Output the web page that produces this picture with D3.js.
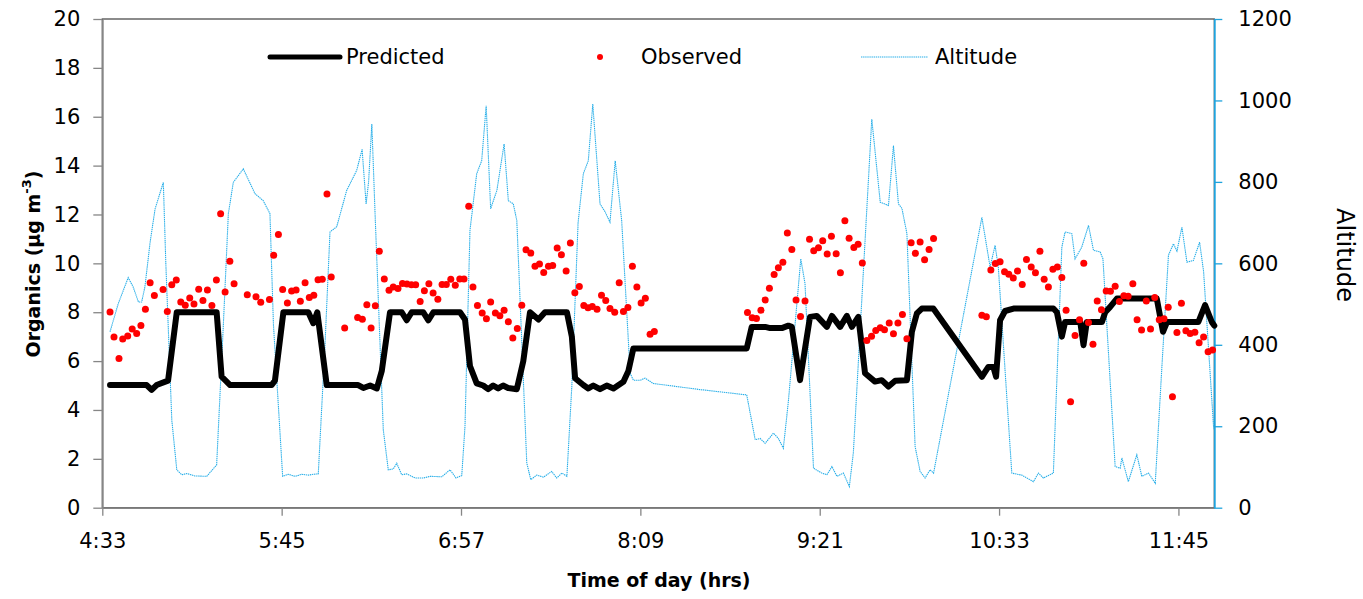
<!DOCTYPE html>
<html>
<head>
<meta charset="utf-8">
<script src="https://cdn.jsdelivr.net/npm/d3@7"></script>
<style>
  body { margin: 0; background: #fff; }
  svg { display: block; }
  text { font-family: 'DejaVu Sans', sans-serif; fill: #000; }
</style>
</head>
<body>
<div id="chart"></div>
<script>
// times are minutes after midnight
const xTicks = [273.6, 345.6, 417.6, 489.6, 561.6, 633.6, 705.6];
const leftTicks = [0, 2, 4, 6, 8, 10, 12, 14, 16, 18, 20];
const rightTicks = [0, 200, 400, 600, 800, 1000, 1200];

const predTime = [276.7, 291.4, 293.4, 295.4, 300.0, 303.5, 319.5, 321.5, 324.9, 341.6, 342.9, 346.3, 356.3, 358.3, 359.9,
  363.7, 376.3, 378.4, 381.1, 383.8, 385.8, 389.1, 393.8, 395.8, 397.8, 402.4, 404.5, 406.5, 417.2, 419.2, 421.2,
  423.9, 426.5, 428.5, 430.5, 432.5, 434.5, 436.5, 440.0, 442.6, 445.3, 448.7, 451.3, 460.1, 462.1, 463.4, 466.7,
  468.7, 470.7, 473.4, 476.1, 478.8, 482.8, 484.8, 486.8, 532.3, 534.3, 539.7, 541.7, 546.4, 549.0, 550.4, 553.7,
  557.7, 560.4, 564.5, 566.5, 569.8, 572.5, 574.5, 577.1, 579.8, 583.8, 586.5, 589.2, 591.9, 596.6, 598.6, 600.6,
  602.6, 607.2, 626.7, 629.3, 631.3, 632.4, 634.0, 636.0, 639.4, 655.4, 656.8, 658.8, 660.1, 666.2, 667.5, 668.8,
  674.9, 676.2, 678.2, 680.9, 696.9, 699.4, 701.0, 713.6, 716.3, 719.0, 720.0];
const predValue = [5.02, 5.02, 4.82, 5.02, 5.2, 8.0, 8.0, 5.36, 5.02, 5.02, 5.2, 8.0, 8.0, 7.55, 8.0,
  5.02, 5.02, 4.9, 5.0, 4.88, 5.6, 8.0, 8.0, 7.67, 8.0, 8.0, 7.67, 8.0, 8.0, 7.7, 5.8,
  5.09, 5.0, 4.85, 5.0, 4.88, 5.0, 4.9, 4.85, 6.0, 8.0, 7.7, 8.0, 8.0, 7.0, 5.3, 5.02,
  4.88, 5.0, 4.85, 5.0, 4.88, 5.15, 5.6, 6.52, 6.52, 7.4, 7.4, 7.35, 7.35, 7.45, 7.4, 5.22,
  7.81, 7.85, 7.4, 7.85, 7.4, 7.85, 7.4, 7.81, 5.5, 5.16, 5.22, 4.96, 5.2, 5.22, 7.2, 7.95,
  8.15, 8.15, 5.36, 5.76, 5.76, 5.36, 7.67, 8.05, 8.15, 8.15, 8.0, 7.0, 7.6, 7.6, 6.65, 7.6,
  7.6, 8.0, 8.22, 8.56, 8.56, 7.2, 7.6, 7.6, 8.29, 7.6, 7.45];

const altTime = [276.7, 280.0, 284.0, 286.0, 288.1, 289.4, 290.7, 292.8, 294.8, 298.1, 299.1, 301.5, 303.5, 305.5,
  307.5, 310.8, 315.5, 319.5, 322.2, 324.2, 326.2, 330.2, 334.9, 338.2, 340.9, 342.3, 346.0, 348.3, 351.0, 353.7,
  356.3, 358.3, 360.3, 363.0, 365.0, 367.7, 371.7, 375.7, 377.9, 379.5, 380.5, 381.8, 383.1, 386.4, 388.4, 390.4,
  391.8, 393.8, 395.8, 399.2, 402.5, 405.2, 409.9, 413.2, 415.6, 417.9, 419.2, 421.2, 423.9, 425.9, 427.7, 429.5,
  432.0, 434.9, 436.6, 438.6, 440.0, 444.0, 445.6, 448.0, 450.7, 454.0, 456.0, 458.1, 460.1, 462.1, 464.6, 466.7,
  468.7, 470.5, 473.4, 475.4, 477.4, 479.5, 482.1, 485.5, 486.8, 489.5, 491.5, 494.8, 513.6, 532.3, 535.7, 537.7,
  539.7, 543.0, 545.0, 547.0, 549.0, 554.0, 555.7, 559.1, 562.4, 564.5, 566.5, 568.5, 571.1, 573.5, 575.1, 582.5,
  585.9, 589.2, 591.2, 593.2, 594.6, 596.6, 599.9, 601.9, 603.9, 605.9, 607.3, 626.7, 630.0, 632.0, 633.3, 638.7,
  642.7, 647.4, 649.4, 651.4, 655.4, 658.8, 660.1, 662.8, 664.1, 666.8, 669.5, 671.5, 674.2, 675.3, 680.2, 682.2,
  682.9, 685.5, 688.9, 690.9, 693.6, 696.3, 699.0, 701.6, 703.6, 705.0, 707.0, 709.0, 711.6, 714.1, 715.7, 719.7, 720.0];
const altValue = [432, 501, 565, 542, 505, 505, 542, 652, 734, 799, 600, 215, 93, 81,
  84, 78, 77, 105, 450, 722, 799, 832, 771, 754, 722, 450, 77, 82, 77, 82,
  80, 82, 83, 400, 677, 690, 779, 828, 880, 746, 800, 942, 722, 191, 93, 95,
  109, 81, 83, 73, 73, 77, 76, 93, 73, 79, 200, 681, 820, 852, 987, 734,
  779, 893, 754, 746, 705, 110, 69, 80, 75, 89, 73, 85, 77, 300, 700, 820,
  852, 991, 746, 727, 701, 852, 705, 330, 313, 313, 318, 305, 290, 277, 167, 170,
  158, 183, 170, 146, 260, 611, 550, 97, 85, 81, 101, 77, 85, 52, 135, 954,
  750, 742, 889, 746, 735, 673, 150, 89, 73, 93, 85, 713, 591, 644, 591, 85,
  80, 64, 85, 73, 85, 640, 677, 673, 611, 640, 693, 632, 628, 611, 101, 97,
  122, 64, 130, 77, 85, 60, 350, 620, 648, 630, 689, 603, 607, 652, 580, 199, 191];

const obsTime = [276.7, 278.3, 280.3, 281.8, 283.8, 285.6, 287.4, 289.1, 290.9, 292.8, 294.5, 298.0, 299.7, 301.5,
  303.3, 305.1, 306.9, 308.7, 310.4, 312.3, 314.0, 315.8, 317.6, 319.4, 321.1, 322.9, 324.8, 326.5, 331.8, 335.3,
  337.2, 340.7, 342.4, 344.3, 346.0, 347.9, 349.6, 351.4, 353.1, 355.0, 356.7, 358.5, 360.2, 361.9, 363.8, 365.5,
  370.9, 376.1, 378.0, 379.8, 381.5, 383.2, 384.8, 386.8, 388.7, 390.4, 392.3, 394.1, 395.9, 397.7, 399.4, 401.2,
  402.9, 404.7, 406.4, 408.3, 410.0, 411.7, 413.5, 415.3, 417.1, 418.8, 420.7, 422.4, 424.2, 426.1, 427.8, 429.5,
  431.4, 433.2, 434.9, 436.6, 438.4, 440.2, 442.0, 443.7, 445.6, 447.3, 449.1, 450.8, 452.7, 454.4, 456.2, 457.9,
  459.8, 461.5, 463.3, 465.1, 466.9, 468.6, 470.3, 472.2, 474.0, 475.7, 477.4, 479.3, 481.1, 482.8, 484.6, 486.4,
  488.2, 489.9, 491.6, 493.5, 495.2, 532.6, 534.5, 536.2, 538.0, 539.7, 541.4, 543.3, 545.0, 546.8, 548.6, 550.4,
  552.1, 553.9, 555.7, 557.5, 559.2, 561.1, 562.8, 564.6, 566.3, 568.2, 569.9, 571.7, 573.4, 575.3, 577.0, 578.7,
  580.5, 582.4, 584.1, 585.9, 587.6, 589.5, 591.2, 593.0, 594.8, 596.6, 598.3, 600.0, 601.9, 603.7, 605.5, 607.3,
  626.7, 628.5, 630.3, 632.1, 634.0, 635.8, 637.5, 639.3, 641.0, 642.9, 644.6, 646.5, 648.2, 650.0, 651.7, 653.4,
  655.2, 657.0, 658.8, 660.5, 662.3, 664.1, 665.9, 667.6, 669.5, 671.3, 673.0, 674.7, 676.6, 678.3, 680.2, 681.9,
  683.7, 685.4, 687.3, 689.0, 690.8, 692.7, 694.4, 696.1, 697.9, 699.8, 701.5, 703.2, 705.0, 706.8, 708.6, 710.3,
  712.2, 713.9, 715.7, 717.5, 719.3];
const obsValue = [8.01, 6.99, 6.11, 6.90, 7.03, 7.31, 7.13, 7.46, 8.12, 9.21, 8.68, 8.93, 8.03, 9.12,
  9.32, 8.42, 8.29, 8.58, 8.34, 8.94, 8.48, 8.91, 8.27, 9.32, 12.03, 8.83, 10.09, 9.17, 8.72, 8.63,
  8.41, 8.52, 10.33, 11.18, 8.93, 8.38, 8.87, 8.91, 8.45, 9.21, 8.60, 8.69, 9.33, 9.35, 12.84, 9.44,
  7.35, 7.78, 7.71, 8.31, 7.35, 8.26, 10.50, 9.36, 8.90, 9.03, 8.97, 9.18, 9.16, 9.12, 9.12, 8.44,
  8.88, 9.17, 8.79, 8.53, 9.13, 9.13, 9.35, 9.10, 9.36, 9.36, 12.34, 9.03, 8.27, 7.97, 7.73, 8.42,
  7.97, 7.86, 8.08, 7.61, 6.94, 7.33, 8.29, 10.56, 10.42, 9.88, 9.97, 9.63, 9.88, 9.91, 10.63, 10.35,
  9.69, 10.83, 8.80, 9.05, 8.27, 8.18, 8.23, 8.12, 8.69, 8.48, 8.15, 8.00, 9.21, 8.03, 8.19, 9.88,
  9.03, 8.38, 8.57, 7.10, 7.21, 7.99, 7.77, 7.74, 8.08, 8.50, 8.98, 9.54, 9.82, 10.04, 11.24, 10.57,
  8.50, 7.82, 8.46, 10.99, 10.52, 10.64, 10.93, 10.38, 11.11, 10.39, 9.62, 11.74, 11.03, 10.65, 10.78, 10.01,
  6.84, 7.02, 7.25, 7.36, 7.28, 7.56, 7.12, 7.56, 7.91, 6.91, 10.84, 10.41, 10.87, 10.15, 10.57, 11.02,
  7.88, 7.81, 9.73, 9.99, 10.07, 9.66, 9.55, 9.40, 9.69, 9.13, 10.16, 9.85, 9.62, 10.50, 9.35, 9.03,
  9.76, 9.85, 9.42, 8.08, 4.34, 7.05, 7.69, 10.0, 7.58, 6.69, 8.46, 8.10, 8.87, 8.86, 9.06, 8.44,
  8.67, 8.65, 9.17, 7.69, 7.27, 8.46, 7.31, 8.60, 7.69, 7.73, 8.20, 4.54, 7.17, 8.37, 7.24, 7.13,
  7.18, 6.75, 6.99, 6.38, 6.45];

const W = 1363, H = 599;
const box = { left: 102.3, right: 1214.3, top: 19, bottom: 507.7 };

const svg = d3.select('#chart').append('svg')
  .attr('width', W)
  .attr('height', H);

const x = d3.scaleLinear().domain([273.6, 720]).range([box.left, box.right]);
const yL = d3.scaleLinear().domain([0, 20]).range([box.bottom, box.top]);
const yR = d3.scaleLinear().domain([0, 1200]).range([box.bottom, box.top]);

const fmtTime = (m) => `${Math.floor(m / 60)}:${String(Math.floor(m % 60)).padStart(2, '0')}`;

// plot area border
svg.append('rect')
  .attr('x', box.left).attr('y', box.top)
  .attr('width', box.right - box.left).attr('height', box.bottom - box.top)
  .attr('fill', 'none').attr('stroke', '#3f3f3f').attr('stroke-width', 1.2);

const styleAxis = (g, color) => {
  g.select('.domain').attr('stroke', color).attr('stroke-width', 1.8);
  g.selectAll('.tick line').attr('stroke', color).attr('stroke-width', 1.3);
  g.selectAll('.tick text').attr('font-size', 21).attr('font-family', 'DejaVu Sans').attr('fill', '#000');
};

svg.append('g')
  .attr('transform', `translate(${box.left},0)`)
  .call(d3.axisLeft(yL).tickValues(leftTicks).tickSize(9).tickSizeOuter(0).tickPadding(13))
  .call(g => styleAxis(g, '#868686'));

svg.append('g')
  .attr('transform', `translate(0,${box.bottom})`)
  .call(d3.axisBottom(x).tickValues(xTicks).tickFormat(fmtTime).tickSize(8).tickSizeOuter(0).tickPadding(17))
  .call(g => styleAxis(g, '#868686'));

svg.append('g')
  .attr('transform', `translate(${box.right},0)`)
  .call(d3.axisRight(yR).tickValues(rightTicks).tickFormat(d3.format('d')).tickSize(8).tickSizeOuter(0).tickPadding(16))
  .call(g => styleAxis(g, '#1fa3dd'));

// series
const altLine = d3.line().x((d, i) => x(altTime[i])).y(d => yR(d));
svg.append('path')
  .datum(altValue)
  .attr('d', altLine)
  .attr('fill', 'none')
  .attr('stroke', '#27aee8')
  .attr('stroke-width', 1.1)
  .attr('stroke-dasharray', '1.4 0.7');

const predLine = d3.line().x((d, i) => x(predTime[i])).y(d => yL(d));
svg.append('path')
  .datum(predValue)
  .attr('d', predLine)
  .attr('fill', 'none')
  .attr('stroke', '#000')
  .attr('stroke-width', 6)
  .attr('stroke-linejoin', 'round')
  .attr('stroke-linecap', 'round');

svg.append('g')
  .selectAll('circle')
  .data(obsValue)
  .join('circle')
  .attr('cx', (d, i) => x(obsTime[i]))
  .attr('cy', d => yL(d))
  .attr('r', 3.5)
  .attr('fill', '#ff0000');

// legend
const leg = svg.append('g').attr('font-size', 21);
leg.append('line').attr('x1', 270).attr('x2', 340).attr('y1', 57).attr('y2', 57)
  .attr('stroke', '#000').attr('stroke-width', 5).attr('stroke-linecap', 'round');
leg.append('text').attr('x', 346).attr('y', 57).attr('dominant-baseline', 'central').text('Predicted');
leg.append('circle').attr('cx', 600).attr('cy', 57).attr('r', 3).attr('fill', '#ff0000');
leg.append('text').attr('x', 641).attr('y', 57).attr('dominant-baseline', 'central').text('Observed');
leg.append('line').attr('x1', 861).attr('x2', 928).attr('y1', 57).attr('y2', 57)
  .attr('stroke', '#27aee8').attr('stroke-width', 1.1).attr('stroke-dasharray', '1.4 0.7');
leg.append('text').attr('x', 935).attr('y', 57).attr('dominant-baseline', 'central').text('Altitude');

// axis titles
const yTitle = svg.append('text')
  .attr('transform', 'translate(33,264) rotate(-90)')
  .attr('text-anchor', 'middle')
  .attr('dominant-baseline', 'central')
  .attr('font-size', 19)
  .attr('font-weight', 'bold');
yTitle.append('tspan').text('Organics (μg m');
yTitle.append('tspan').attr('font-size', 13).attr('dy', -7).text('-3');
yTitle.append('tspan').attr('dy', 7).text(')');

svg.append('text')
  .attr('x', 659).attr('y', 580)
  .attr('text-anchor', 'middle')
  .attr('dominant-baseline', 'central')
  .attr('font-size', 19)
  .attr('font-weight', 'bold')
  .text('Time of day (hrs)');

svg.append('text')
  .attr('transform', 'translate(1345,255) rotate(90)')
  .attr('text-anchor', 'middle')
  .attr('dominant-baseline', 'central')
  .attr('font-size', 24)
  .text('Altitude');
</script>
</body>
</html>
